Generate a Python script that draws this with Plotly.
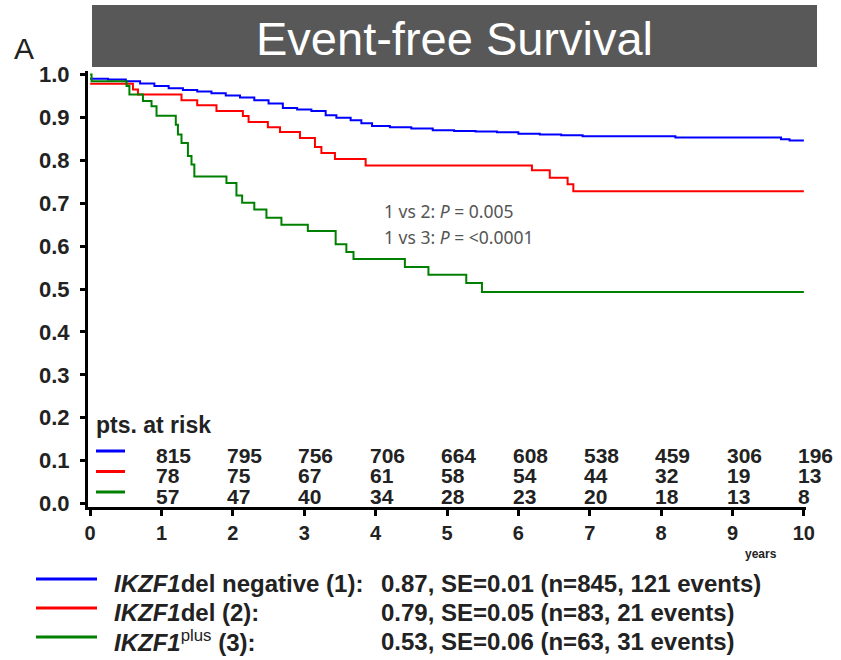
import plotly.graph_objects as go

# Kaplan-Meier step curves (time in years, survival probability)
blue_t = [0, 0.25, 0.5, 0.7, 0.9, 1.1, 1.3, 1.5, 1.7, 1.9, 2.1, 2.3, 2.5, 2.7, 2.9, 3.1,
          3.3, 3.45, 3.65, 3.8, 3.95, 4.2, 4.5, 4.8, 5.1, 5.4, 5.7, 6.0, 6.3, 6.6, 6.9,
          8.2, 9.68, 9.8, 10]
blue_s = [0.99, 0.988, 0.984, 0.979, 0.973, 0.968, 0.964, 0.960, 0.956, 0.951, 0.946,
          0.940, 0.932, 0.922, 0.918, 0.915, 0.905, 0.899, 0.893, 0.886, 0.880, 0.877,
          0.874, 0.870, 0.868, 0.867, 0.865, 0.862, 0.860, 0.858, 0.856, 0.853, 0.849,
          0.846, 0.846]

red_t = [0, 0.6, 0.67, 1.28, 1.5, 1.77, 2.14, 2.22, 2.49, 2.66, 2.94, 3.15, 3.24, 3.43,
         3.86, 6.19, 6.44, 6.69, 6.77, 10]
red_s = [0.978, 0.965, 0.953, 0.94, 0.928, 0.915, 0.903, 0.889, 0.877, 0.866, 0.852,
         0.831, 0.817, 0.803, 0.788, 0.777, 0.759, 0.744, 0.728, 0.728]

green_t = [0, 0.02, 0.51, 0.55, 0.74, 0.86, 0.93, 1.2, 1.23, 1.28, 1.37, 1.42, 1.46,
           1.91, 2.05, 2.13, 2.3, 2.47, 2.68, 3.05, 3.44, 3.59, 3.69, 4.41, 4.74, 5.27,
           5.49, 10]
green_s = [1.0, 0.984, 0.973, 0.953, 0.938, 0.926, 0.904, 0.883, 0.86, 0.84, 0.81, 0.79,
           0.762, 0.747, 0.718, 0.701, 0.685, 0.666, 0.65, 0.635, 0.604, 0.586, 0.57,
           0.551, 0.533, 0.514, 0.493, 0.493]

# Patients at risk per year
risk_years = [1, 2, 3, 4, 5, 6, 7, 8, 9, 10]
risk_blue = [815, 795, 756, 706, 664, 608, 538, 459, 306, 196]
risk_red = [78, 75, 67, 61, 58, 54, 44, 32, 19, 13]
risk_green = [57, 47, 40, 34, 28, 23, 20, 18, 13, 8]

legend_labels = ["<b><i>IKZF1</i>del negative (1):</b>",
                 "<b><i>IKZF1</i>del (2):</b>",
                 "<b><i>IKZF1</i><span style='font-weight:normal'><sup>plus</sup></span> (3):</b>"]
legend_stats = ["<b>0.87, SE=0.01 (n=845, 121 events)</b>",
                "<b>0.79, SE=0.05 (n=83, 21 events)</b>",
                "<b>0.53, SE=0.06 (n=63, 31 events)</b>"]
pvalues = ["1 vs 2: <i>P</i> = 0.005", "1 vs 3: <i>P</i> = <0.0001"]

colors = ["#0000ff", "#ff0000", "#008000"]

W, H = 841, 660
L, T, PW, PH = 88, 71, 718, 436


def px(x):
    return (x - L) / PW


def py(y):
    return (T + PH - y) / PH


fig = go.Figure()
for t, s, c in [(blue_t, blue_s, colors[0]), (red_t, red_s, colors[1]),
                (green_t, green_s, colors[2])]:
    fig.add_trace(go.Scatter(x=t, y=s, mode="lines", line=dict(color=c, width=2, shape="hv"),
                             showlegend=False, hoverinfo="skip"))

shapes = []
ann = []

# title bar
shapes.append(dict(type="rect", xref="paper", yref="paper", x0=px(92), x1=px(817),
                   y0=py(67), y1=py(5), fillcolor="#585858", line=dict(width=0), layer="above"))
ann.append(dict(xref="paper", yref="paper", x=px(454), y=py(38), text="Event-free Survival",
                showarrow=False, font=dict(family="Liberation Sans", size=47, color="white"),
                xanchor="center", yanchor="middle"))
ann.append(dict(xref="paper", yref="paper", x=px(12), y=py(48), text="A", showarrow=False,
                font=dict(family="Liberation Sans", size=30, color="#222"),
                xanchor="left", yanchor="middle"))

# p-values
for i, txt in enumerate(pvalues):
    ann.append(dict(xref="paper", yref="paper", x=px(382), y=py(211 + 26 * i), text=txt,
                    showarrow=False, font=dict(family="Noto Sans", size=17.5, color="#555"),
                    xanchor="left", yanchor="middle"))

# at-risk table
ann.append(dict(xref="paper", yref="paper", x=px(94), y=py(425), text="<b>pts. at risk</b>",
                showarrow=False, font=dict(family="Liberation Sans", size=23, color="#222"),
                xanchor="left", yanchor="middle"))
row_y = [455, 475.5, 496]
for r, (vals, c) in enumerate(zip([risk_blue, risk_red, risk_green], colors)):
    shapes.append(dict(type="line", xref="paper", yref="paper", x0=px(96), x1=px(125),
                       y0=py(row_y[r] - 4), y1=py(row_y[r] - 4), line=dict(color=c, width=3)))
    for yr, v in zip(risk_years, vals):
        ann.append(dict(xref="x", yref="paper", x=yr - 0.11, y=py(row_y[r]), text=f"<b>{v}</b>",
                        showarrow=False, font=dict(family="Liberation Sans", size=21, color="#222"),
                        xanchor="left", yanchor="middle"))

ann.append(dict(xref="paper", yref="paper", x=px(761), y=py(554), text="<b>years</b>",
                showarrow=False, font=dict(family="Liberation Sans", size=12, color="#222"),
                xanchor="center", yanchor="middle"))

# bottom legend
leg_y = [583, 612, 641]
for i in range(3):
    shapes.append(dict(type="line", xref="paper", yref="paper", x0=px(36), x1=px(97),
                       y0=py(leg_y[i] - 4), y1=py(leg_y[i] - 4), line=dict(color=colors[i], width=3)))
    ann.append(dict(xref="paper", yref="paper", x=px(112), y=py(leg_y[i]), text=legend_labels[i],
                    showarrow=False, font=dict(family="Liberation Sans", size=24, color="#222"),
                    xanchor="left", yanchor="middle"))
    ann.append(dict(xref="paper", yref="paper", x=px(379), y=py(leg_y[i]), text=legend_stats[i],
                    showarrow=False, font=dict(family="Liberation Sans", size=24, color="#222"),
                    xanchor="left", yanchor="middle"))

fig.update_layout(
    width=W, height=H, margin=dict(l=L, r=W - L - PW, t=T, b=H - T - PH),
    paper_bgcolor="white", plot_bgcolor="white",
    shapes=shapes, annotations=ann,
    xaxis=dict(range=[-0.03, 10.03], tickvals=list(range(0, 11)), showgrid=False, zeroline=False,
               showline=True, linecolor="black", linewidth=3, ticks="outside", ticklen=6,
               tickwidth=3, tickcolor="black",
               tickfont=dict(family="Liberation Sans", size=20, color="#222", weight="bold")),
    yaxis=dict(range=[-0.008, 1.008], tickvals=[i / 10 for i in range(11)], tickformat=".1f",
               showgrid=False, zeroline=False, showline=True, linecolor="black", linewidth=3,
               ticks="outside", ticklen=5, tickwidth=3, tickcolor="black", ticklabelstandoff=6,
               tickfont=dict(family="Liberation Sans", size=22, color="#222", weight="bold")),
)

fig.write_html("out.html")
